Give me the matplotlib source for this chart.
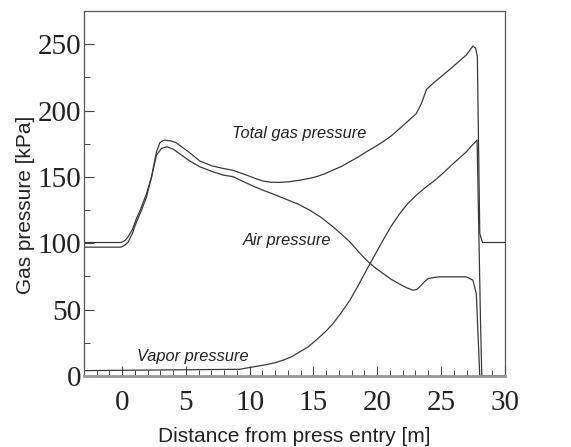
"""
Gas pressure along the press
"""
import matplotlib.pyplot as plt
from matplotlib.ticker import MultipleLocator

# distance [m] and pressures [kPa]
total_x = [-3.0, -0.1, 0.2, 0.47, 0.8, 1.12, 1.5, 1.91, 2.3, 2.5, 2.69, 2.95, 3.15, 3.34,
           3.74, 4.2, 5.2, 6.09, 7.0, 7.92, 8.7, 9.75, 10.4, 11.05, 11.7, 12.36, 13.1, 13.93,
           14.6, 15.23, 15.9, 16.54, 17.2, 17.85, 18.5, 19.15, 19.8, 20.46, 21.1, 21.77,
           22.4, 23.07, 23.47, 23.86, 24.38, 25.69, 26.99, 27.5, 27.72, 27.85, 27.95, 28.04,
           28.25, 30.0]
total_p = [100.6, 100.6, 102.0, 104.9, 110.5, 118.7, 127.0, 137.6, 150.0, 160.0, 169.0,
           175.8, 177.2, 177.8, 177.3, 176.0, 169.0, 162.0, 158.5, 156.4, 155.0, 151.4, 149.0,
           146.9, 146.0, 145.9, 146.4, 147.6, 148.8, 150.2, 152.5, 155.2, 158.0, 161.5, 165.0,
           169.0, 172.6, 176.6, 181.0, 186.6, 192.0, 197.9, 205.5, 216.0, 220.6, 231.1, 242.0,
           248.7, 247.0, 240.7, 170.0, 107.4, 100.6, 100.6]

air_x = [-3.0, -0.1, 0.2, 0.47, 0.8, 1.12, 1.5, 1.91, 2.3, 2.69, 3.08, 3.48, 4.0, 4.65, 5.3,
         6.09, 7.0, 7.92, 8.7, 9.5, 10.3, 11.05, 12.0, 12.9, 13.8, 14.7, 15.6, 16.54, 17.2,
         17.85, 18.5, 19.15, 19.8, 20.46, 21.1, 21.77, 22.3, 22.81, 23.1, 23.33, 23.7, 23.99,
         24.5, 24.9, 26.99, 27.5, 27.77, 27.9, 28.04, 30.0]
air_p = [97.1, 97.1, 98.5, 101.0, 107.5, 116.2, 124.5, 135.0, 150.0, 166.5, 171.5, 172.8,
         171.0, 166.5, 162.0, 157.7, 154.3, 151.4, 150.2, 146.5, 143.0, 140.0, 136.5, 133.0,
         129.5, 125.0, 119.5, 112.4, 106.8, 101.1, 94.0, 87.3, 81.8, 77.2, 72.8, 69.2, 66.5,
         64.6, 65.2, 67.2, 71.0, 73.4, 74.3, 74.7, 74.7, 72.2, 62.0, 32.0, 0.0, 0.0]

vapor_x = [-3.0, 9.2, 10.27, 11.3, 12.0, 12.6, 13.3, 13.9, 14.6, 15.2, 15.9, 16.54, 17.2,
           17.85, 18.5, 19.15, 19.8, 20.46, 21.1, 21.77, 22.4, 23.07, 23.7, 24.38, 25.0,
           25.69, 26.3, 26.99, 27.4, 27.83, 28.1, 28.2, 30.0]
vapor_p = [4.0, 5.0, 6.8, 8.5, 10.0, 11.8, 14.5, 18.0, 22.0, 27.0, 33.0, 39.5, 48.0, 57.0,
           68.0, 79.7, 91.0, 102.4, 113.0, 122.5, 130.0, 136.3, 141.5, 146.4, 151.5, 157.7,
           163.0, 169.0, 173.5, 177.8, 40.0, 0.0, 0.0]

labels = ["Total gas pressure", "Air pressure", "Vapor pressure"]
label_xy = [(13.9, 183), (12.9, 102), (5.5, 15)]

line_color = "#3a3a3a"

fig = plt.figure(figsize=(5.71, 4.47), dpi=100)
ax = fig.add_axes([0.147, 0.159, 0.737, 0.816])

ax.plot(total_x, total_p, color=line_color, lw=0.9)
ax.plot(air_x, air_p, color=line_color, lw=0.9)
ax.plot(vapor_x, vapor_p, color=line_color, lw=0.9)

for text, (tx, ty) in zip(labels, label_xy):
    ax.text(tx, ty, text, ha="center", va="center", style="italic",
            family="Liberation Sans", fontsize=11.8, color="#222222")

ax.set_xlim(-3, 30)
ax.set_ylim(0, 275)
ax.xaxis.set_major_locator(MultipleLocator(5))
ax.xaxis.set_minor_locator(MultipleLocator(1))
ax.yaxis.set_major_locator(MultipleLocator(50))
ax.yaxis.set_minor_locator(MultipleLocator(25))
ax.tick_params(which="both", direction="in", colors="#444444", labelcolor="#222222")
ax.tick_params(which="major", length=7, width=0.8, labelsize=21)
ax.tick_params(axis="y", which="major", pad=2)
ax.tick_params(axis="x", which="major", pad=10)
ax.tick_params(which="minor", length=4, width=0.7)
for lab in ax.get_xticklabels() + ax.get_yticklabels():
    lab.set_family("Liberation Serif")

for side in ["left", "right", "top"]:
    ax.spines[side].set_color("#555555")
    ax.spines[side].set_linewidth(0.9)
ax.spines["bottom"].set_color("#999999")
ax.spines["bottom"].set_linewidth(2.0)

ax.set_xlabel("Distance from press entry [m]", family="Liberation Sans", fontsize=15,
              color="#222222", labelpad=8)
ax.set_ylabel("Gas pressure [kPa]", family="Liberation Sans", fontsize=15,
              color="#222222", labelpad=2)
ax.yaxis.label.set_y(0.47)

fig.savefig("out.png", dpi=100)
